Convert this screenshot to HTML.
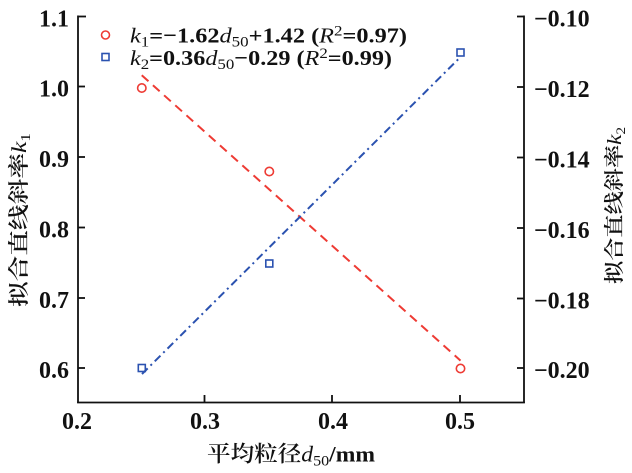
<!DOCTYPE html>
<html>
<head>
<meta charset="utf-8">
<style>
  html,body{margin:0;padding:0;background:#fff;}
  svg{display:block;}
  .num{font-family:"Liberation Serif","Noto Serif CJK SC",serif;font-weight:bold;font-size:24px;fill:#111;}
  .cjk{font-family:"Liberation Serif","Noto Serif CJK SC",serif;fill:#111;}
</style>
</head>
<body>
<svg width="632" height="473" viewBox="0 0 632 473" xmlns="http://www.w3.org/2000/svg">
  <rect width="632" height="473" fill="#fff"/>

  <!-- axes -->
  <g stroke="#111" stroke-width="1.8" fill="none">
    <line x1="78" y1="15.5" x2="78" y2="403"/>
    <line x1="77.1" y1="402.5" x2="524.9" y2="402.5"/>
    <line x1="524" y1="15.5" x2="524" y2="403"/>
    <!-- left ticks (inward) -->
    <line x1="78" y1="16.5" x2="86" y2="16.5"/>
    <line x1="78" y1="86.5" x2="85" y2="86.5"/>
    <line x1="78" y1="157" x2="85" y2="157"/>
    <line x1="78" y1="227.5" x2="85" y2="227.5"/>
    <line x1="78" y1="298" x2="85" y2="298"/>
    <line x1="78" y1="368" x2="85" y2="368"/>
    <!-- right ticks (inward) -->
    <line x1="524" y1="16.5" x2="517" y2="16.5"/>
    <line x1="524" y1="87" x2="517" y2="87"/>
    <line x1="524" y1="157.5" x2="517" y2="157.5"/>
    <line x1="524" y1="228" x2="517" y2="228"/>
    <line x1="524" y1="298.5" x2="517" y2="298.5"/>
    <line x1="524" y1="368" x2="517" y2="368"/>
    <!-- bottom ticks -->
    <line x1="204.5" y1="402.5" x2="204.5" y2="395"/>
    <line x1="332" y1="402.5" x2="332" y2="395"/>
    <line x1="460" y1="402.5" x2="460" y2="395"/>
  </g>

  <!-- left tick labels -->
  <g class="num" text-anchor="end">
    <text x="69" y="26.5">1.1</text>
    <text x="69" y="96.5">1.0</text>
    <text x="69" y="167">0.9</text>
    <text x="69" y="237.5">0.8</text>
    <text x="69" y="308">0.7</text>
    <text x="69" y="378">0.6</text>
  </g>

  <!-- right tick labels -->
  <g class="num" text-anchor="start">
    <text x="534" y="26.5">−0.10</text>
    <text x="534" y="97">−0.12</text>
    <text x="534" y="167.5">−0.14</text>
    <text x="534" y="238">−0.16</text>
    <text x="534" y="308.5">−0.18</text>
    <text x="534" y="378">−0.20</text>
  </g>

  <!-- x tick labels -->
  <g class="num" text-anchor="middle">
    <text x="77" y="429">0.2</text>
    <text x="205" y="429">0.3</text>
    <text x="333" y="429">0.4</text>
    <text x="460" y="429">0.5</text>
  </g>

  <!-- fit lines -->
  <line x1="141.75" y1="75.3" x2="460.5" y2="360.6" stroke="#ee3b34" stroke-width="2" stroke-dasharray="9,6"/>
  <line x1="142" y1="374" x2="460.5" y2="57" stroke="#2b52b0" stroke-width="2" stroke-dasharray="8,4,2,4"/>

  <!-- k1 markers -->
  <g fill="none" stroke="#ee3b34" stroke-width="1.6">
    <circle cx="141.8" cy="88" r="4.2"/>
    <circle cx="269.3" cy="171.5" r="4.2"/>
    <circle cx="460.5" cy="368.5" r="4.2"/>
  </g>
  <!-- k2 markers -->
  <g fill="none" stroke="#2b52b0" stroke-width="1.6">
    <rect x="138.3" y="364.5" width="7" height="7"/>
    <rect x="265.8" y="260" width="7" height="7"/>
    <rect x="457" y="49" width="7" height="7"/>
  </g>

  <!-- legend -->
  <circle cx="105.5" cy="35" r="4" fill="none" stroke="#ee3b34" stroke-width="1.6"/>
  <rect x="102" y="53.5" width="7" height="7" fill="none" stroke="#2b52b0" stroke-width="1.6"/>
  <text x="130" y="42.5" font-family="Liberation Serif, serif" font-size="21.5" font-weight="bold" fill="#111" textLength="277" lengthAdjust="spacingAndGlyphs"><tspan font-style="italic" font-weight="normal">k</tspan><tspan dy="4" font-size="15" font-weight="normal">1</tspan><tspan dy="-4">=−1.62</tspan><tspan font-style="italic" font-weight="normal">d</tspan><tspan dy="4" font-size="15" font-weight="normal">50</tspan><tspan dy="-4">+1.42 (</tspan><tspan font-style="italic" font-weight="normal">R</tspan><tspan dy="-7" font-size="15" font-weight="normal">2</tspan><tspan dy="7">=0.97)</tspan></text>
  <text x="130" y="65" font-family="Liberation Serif, serif" font-size="21.5" font-weight="bold" fill="#111" textLength="262" lengthAdjust="spacingAndGlyphs"><tspan font-style="italic" font-weight="normal">k</tspan><tspan dy="4" font-size="15" font-weight="normal">2</tspan><tspan dy="-4">=0.36</tspan><tspan font-style="italic" font-weight="normal">d</tspan><tspan dy="4" font-size="15" font-weight="normal">50</tspan><tspan dy="-4">−0.29 (</tspan><tspan font-style="italic" font-weight="normal">R</tspan><tspan dy="-7" font-size="15" font-weight="normal">2</tspan><tspan dy="7">=0.99)</tspan></text>

  <!-- axis titles -->
  <text class="cjk" x="207" y="461.5" font-size="22" font-weight="600" textLength="168" lengthAdjust="spacingAndGlyphs">平均粒径<tspan font-style="italic" font-weight="normal">d</tspan><tspan dy="4" font-size="15" font-weight="normal">50</tspan><tspan dy="-4" font-weight="bold">/mm</tspan></text>

  <text class="cjk" transform="translate(26,307) rotate(-90)" x="0" y="0" font-size="21" font-weight="600" textLength="174" lengthAdjust="spacingAndGlyphs">拟合直线斜率<tspan font-style="italic" font-weight="normal">k</tspan><tspan dy="4" font-size="14" font-weight="normal">1</tspan></text>

  <text class="cjk" transform="translate(621,284) rotate(-90)" x="0" y="0" font-size="20" font-weight="600" textLength="157" lengthAdjust="spacingAndGlyphs">拟合直线斜率<tspan font-style="italic" font-weight="normal">k</tspan><tspan dy="4" font-size="13" font-weight="normal">2</tspan></text>
</svg>
</body>
</html>
